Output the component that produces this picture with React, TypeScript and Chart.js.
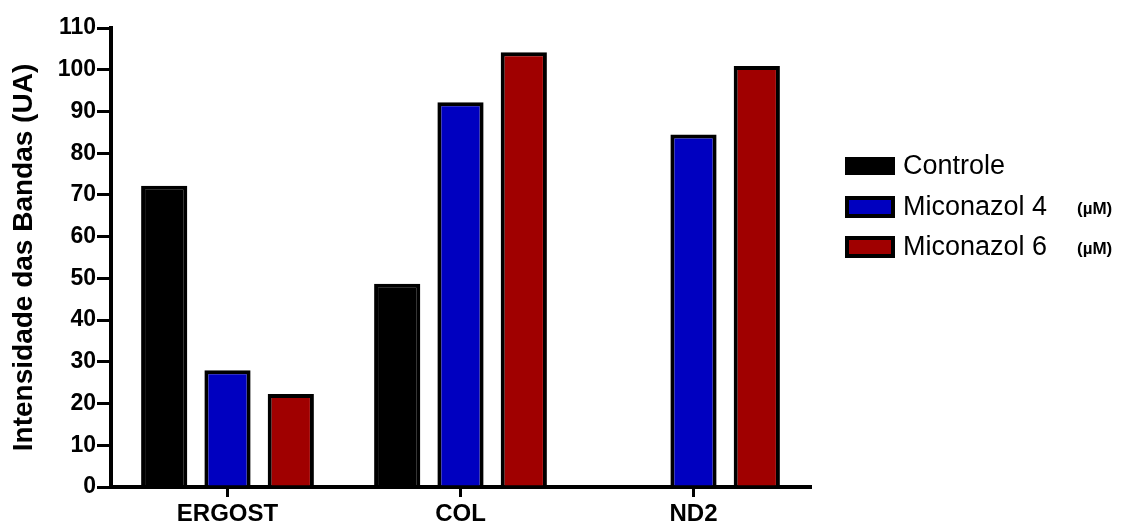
import React, { useEffect, useRef } from "react";
import { Chart, registerables } from "chart.js";

Chart.register(...registerables);

const categories = ["ERGOST", "COL", "ND2"];
const controle = [72.2, 48.7, 0];
const micon4 = [28, 92.2, 84.5];
const micon6 = [22.3, 104.2, 100.9];
const yTicks = [0, 10, 20, 30, 40, 50, 60, 70, 80, 90, 100, 110];

const seriesNames = ["Controle", "Miconazol 4", "Miconazol 6"];
const unitLabels = ["", "(µM)", "(µM)"];
const colors = ["#000000", "#0000C0", "#A00000"];

const legendPlugin = {
  id: "customLegend",
  afterDraw(chart: any) {
    const ctx = chart.ctx;
    const x0 = 845;
    const ys = [166, 207, 247];
    ctx.save();
    seriesNames.forEach((name, i) => {
      const y = ys[i];
      ctx.fillStyle = "#000";
      if (i === 0) {
        ctx.fillRect(x0, y - 9, 50, 18);
      } else {
        ctx.fillRect(x0, y - 11, 50, 22);
        ctx.fillStyle = colors[i];
        ctx.fillRect(x0 + 4, y - 7, 42, 14);
      }
      ctx.fillStyle = "#000";
      ctx.font = "27px 'Liberation Sans', Arial, sans-serif";
      ctx.textBaseline = "middle";
      ctx.textAlign = "left";
      ctx.fillText(name, 903, y + 1);
      if (unitLabels[i]) {
        ctx.font = "bold 17px 'Liberation Sans', Arial, sans-serif";
        ctx.fillText(unitLabels[i], 1077, y + 2);
      }
    });
    ctx.restore();
  },
};

export default function App() {
  const ref = useRef<HTMLCanvasElement>(null);
  useEffect(() => {
    if (!ref.current) return;
    const font = "'Liberation Sans', Arial, sans-serif";
    const chart = new Chart(ref.current, {
      type: "bar",
      data: {
        labels: categories,
        datasets: [controle, micon4, micon6].map((d, i) => ({
          label: seriesNames[i],
          data: d,
          backgroundColor: colors[i],
          borderColor: "#000",
          borderWidth: 4,
          borderSkipped: "bottom",
          categoryPercentage: 0.815,
          barPercentage: 0.73,
        })),
      },
      options: {
        animation: false,
        responsive: false,
        maintainAspectRatio: false,
        layout: { padding: { top: 28, right: 311, left: 0, bottom: 0 } },
        plugins: { legend: { display: false }, tooltip: { enabled: false } },
        scales: {
          x: {
            offset: true,
            grid: {
              offset: false,
              drawOnChartArea: false,
              drawTicks: true,
              tickLength: 10,
              color: "#000",
              lineWidth: 3,
            },
            border: { display: true, color: "#000", width: 4 },
            ticks: {
              color: "#000",
              font: { family: font, size: 24, weight: "bold" },
              padding: 3,
            },
            afterFit(scale: any) {
              scale.height = 38;
            },
          },
          y: {
            min: 0,
            max: 110,
            afterBuildTicks(scale: any) {
              scale.ticks = yTicks.map((v) => ({ value: v }));
            },
            grid: {
              drawOnChartArea: false,
              drawTicks: true,
              tickLength: 14,
              color: "#000",
              lineWidth: 3,
            },
            border: { display: true, color: "#000", width: 4 },
            ticks: {
              color: "#000",
              font: { family: font, size: 23, weight: "bold" },
              padding: 1,
            },
            title: {
              display: true,
              text: "Intensidade das Bandas (UA)",
              color: "#000",
              font: { family: font, size: 28, weight: "bold" },
              padding: { top: 7, bottom: 0 },
            },
            afterFit(scale: any) {
              scale.width = 111;
            },
          },
        },
      },
      plugins: [legendPlugin],
    } as any);
    return () => chart.destroy();
  }, []);
  return (
    <div style={{ position: "absolute", left: 0, top: 0, width: 1121, height: 525, background: "#fff" }}>
      <canvas ref={ref} width={1121} height={525} style={{ width: 1121, height: 525 }} />
    </div>
  );
}
